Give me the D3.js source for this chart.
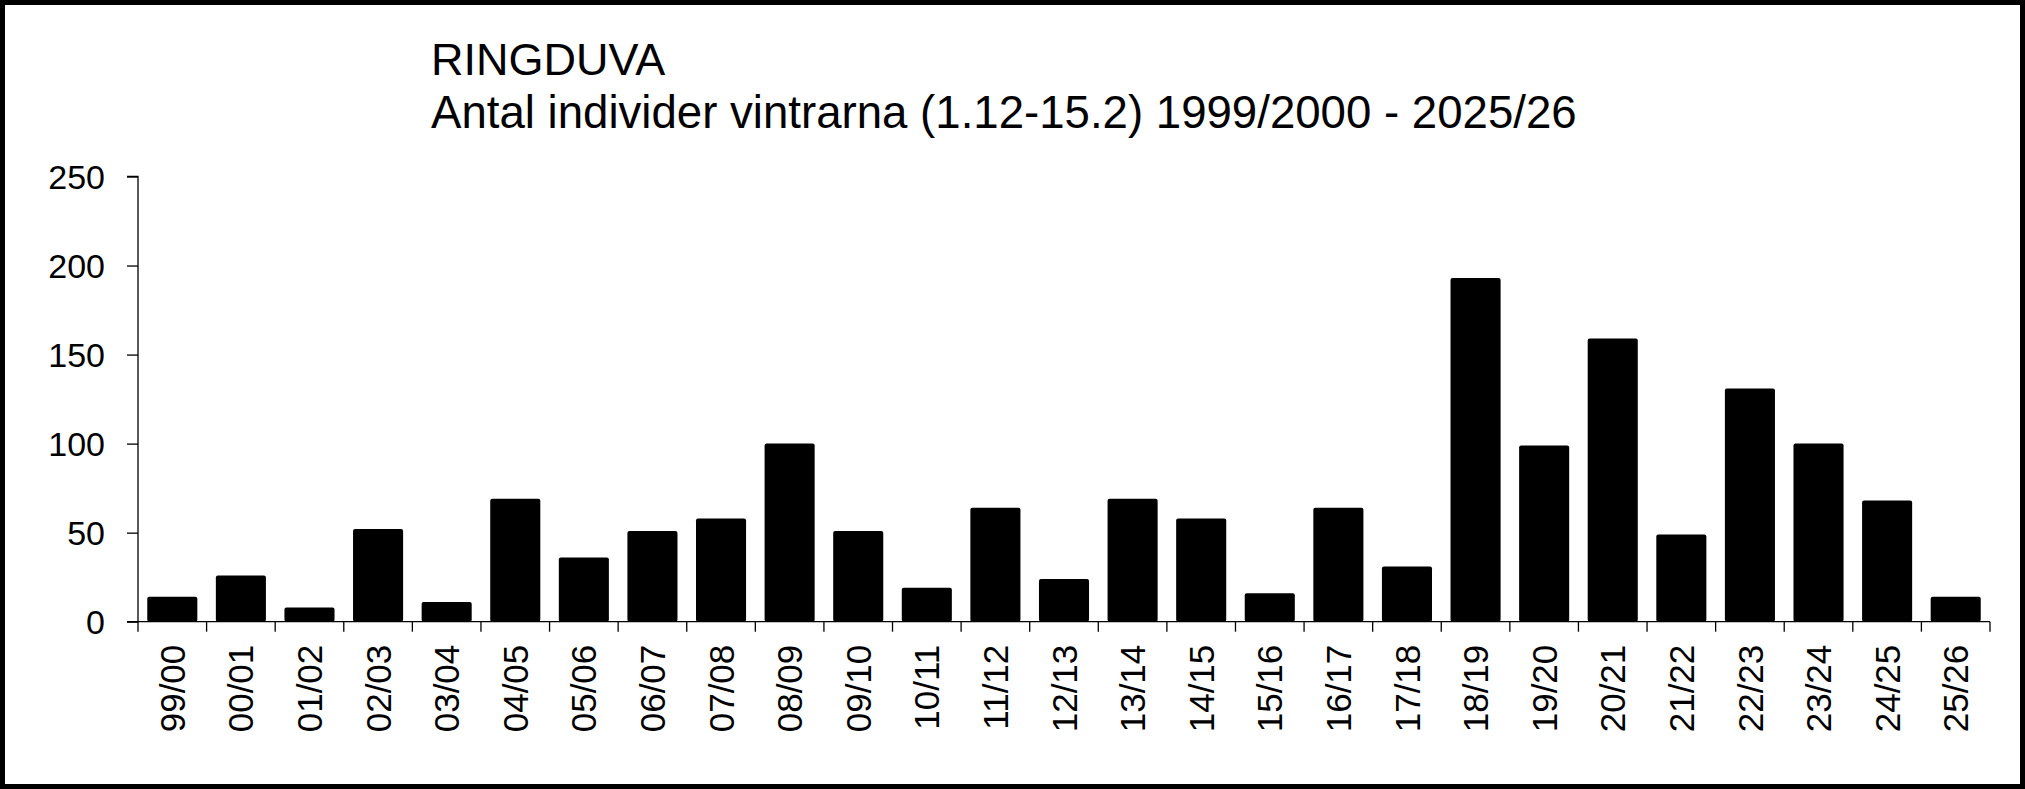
<!DOCTYPE html>
<html>
<head>
<meta charset="utf-8">
<script src="https://cdn.jsdelivr.net/npm/d3@7"></script>
<style>
  html, body { margin: 0; padding: 0; background: #fff; }
  svg { display: block; }
  text { font-family: "Liberation Sans", Arial, sans-serif; fill: #000; }
</style>
</head>
<body>
<svg id="chart" width="2025" height="789"></svg>
<script>
const seasons = ["99/00","00/01","01/02","02/03","03/04","04/05","05/06","06/07","07/08","08/09",
                 "09/10","10/11","11/12","12/13","13/14","14/15","15/16","16/17","17/18","18/19",
                 "19/20","20/21","21/22","22/23","23/24","24/25","25/26"];
const counts = [14,26,8,52,11,69,36,51,58,100,
                51,19,64,24,69,58,16,64,31,193,
                99,159,49,131,100,68,14];
const yTicks = [0,50,100,150,200,250];
const titleLines = ["RINGDUVA", "Antal individer vintrarna (1.12-15.2) 1999/2000 - 2025/26"];

const W = 2025, H = 789;
const svg = d3.select("#chart");
const m = {left: 138, right: W - 1990, top: 176.5, bottom: H - 621.7};

// frame
svg.append("rect").attr("x", 2.5).attr("y", 2.5).attr("width", W - 5).attr("height", H - 5)
  .attr("fill", "#fff").attr("stroke", "#000").attr("stroke-width", 5);

const x = d3.scaleBand().domain(seasons).range([m.left, W - m.right])
  .paddingInner(0.27).paddingOuter(0.135);
const y = d3.scaleLinear().domain([0, 250]).range([H - m.bottom, m.top]);

// bars
svg.append("g").selectAll("rect").data(seasons).join("rect")
  .attr("x", d => x(d))
  .attr("y", (d, i) => y(counts[i]))
  .attr("width", x.bandwidth())
  .attr("height", (d, i) => y(0) - y(counts[i]))
  .attr("rx", 2).attr("ry", 2)
  .attr("fill", "#000");

// y axis
const yAxis = svg.append("g").attr("transform", `translate(${m.left},0)`)
  .call(d3.axisLeft(y).tickValues(yTicks).tickSize(11).tickPadding(22).tickFormat(d3.format("d")));
yAxis.selectAll("path, line").attr("stroke", "#000").attr("stroke-width", 1.3);
yAxis.select(".domain").attr("d", `M-11,${y(250)}H0V${y(0)}H-11`);
yAxis.selectAll("text").style("font-size", "34px").attr("dy", "0.36em");

// x axis with ticks at category boundaries
const bounds = d3.range(seasons.length + 1).map(i => m.left + i * (W - m.left - m.right) / seasons.length);
const xg = svg.append("g");
xg.append("line").attr("x1", m.left).attr("x2", W - m.right)
  .attr("y1", y(0)).attr("y2", y(0)).attr("stroke", "#000").attr("stroke-width", 1.3);
xg.selectAll("line.tk").data(bounds).join("line").attr("class", "tk")
  .attr("x1", d => d).attr("x2", d => d)
  .attr("y1", y(0)).attr("y2", y(0) + 10)
  .attr("stroke", "#000").attr("stroke-width", 1.3);
xg.selectAll("text").data(seasons).join("text")
  .attr("transform", d => `translate(${x(d) + x.bandwidth() / 2},${y(0) + 23}) rotate(-90)`)
  .attr("text-anchor", "end").attr("dy", "0.36em")
  .style("font-size", "35px")
  .text(d => d);

// titles
svg.append("text").attr("x", 431).attr("y", 75).style("font-size", "45px").text(titleLines[0]);
svg.append("text").attr("x", 431).attr("y", 128).style("font-size", "45.6px").text(titleLines[1]);
</script>
</body>
</html>
